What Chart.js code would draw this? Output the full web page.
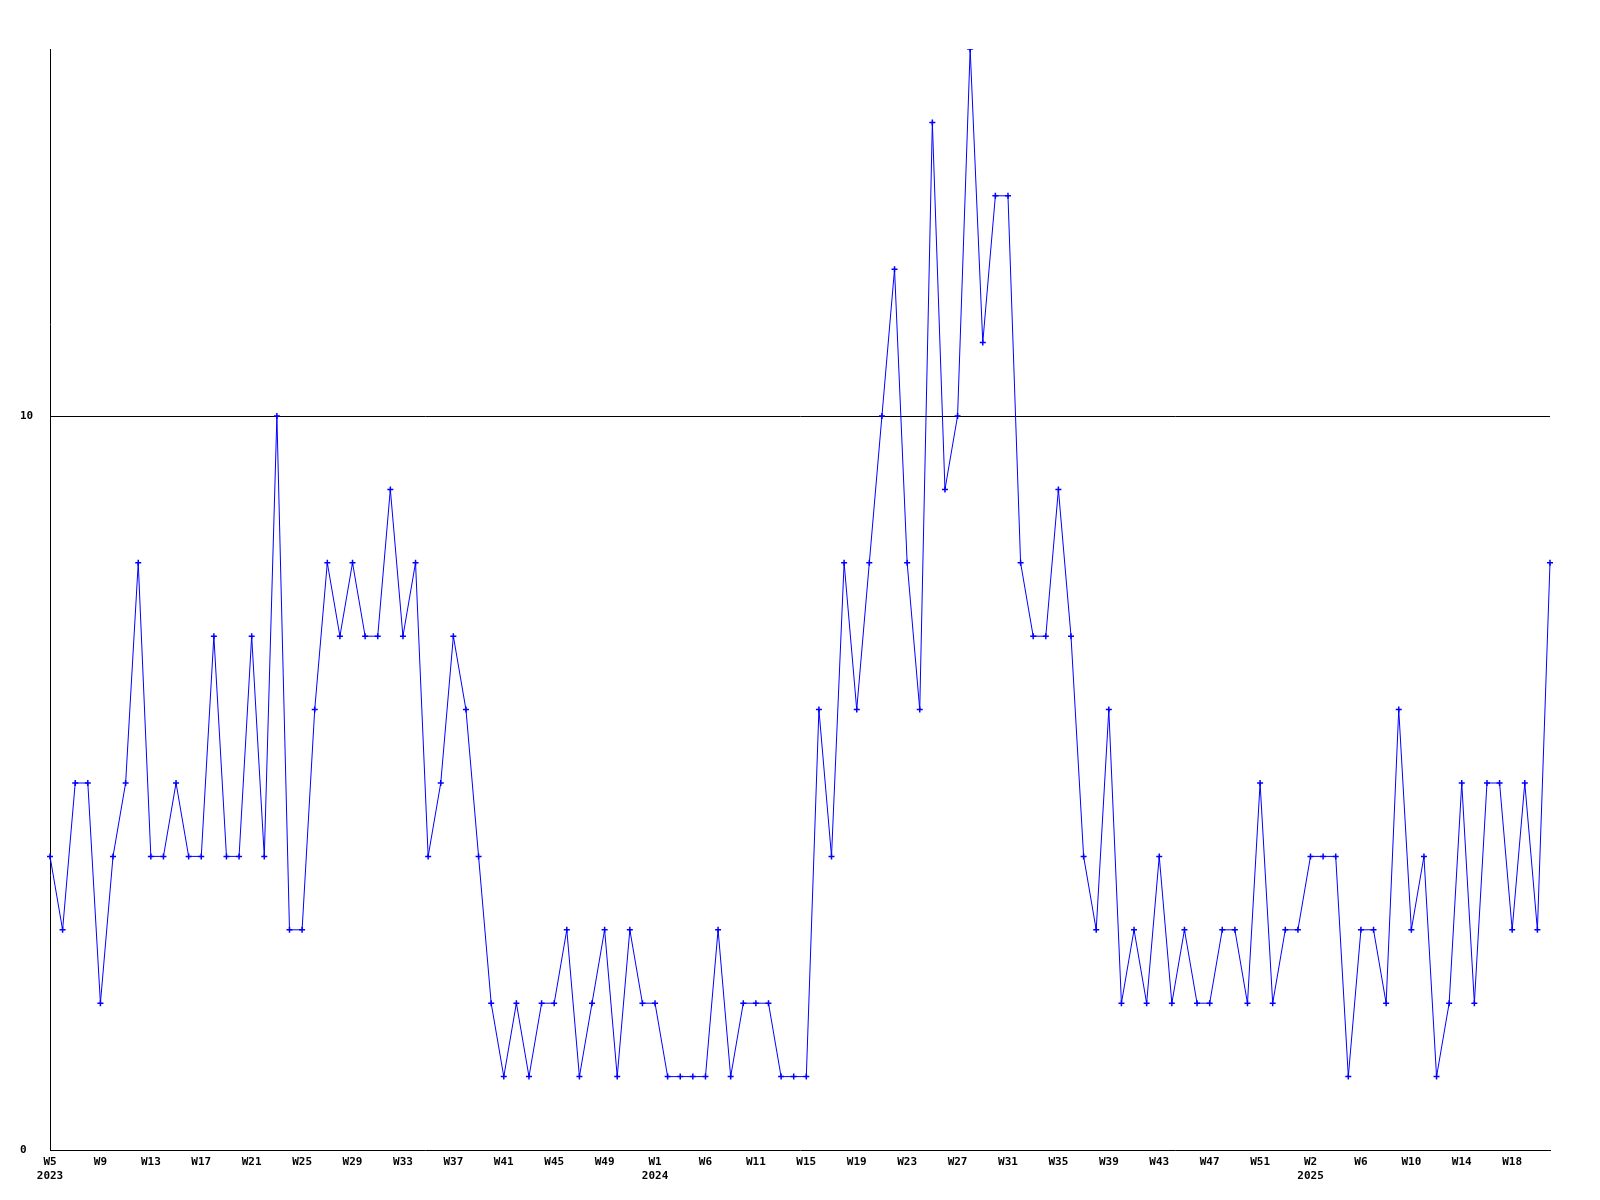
<!DOCTYPE html>
<html>
<head>
<meta charset="utf-8">
<script src="https://cdn.jsdelivr.net/npm/chart.js@4/dist/chart.umd.min.js"></script>
<style>
  html, body { margin: 0; padding: 0; background: #fff; }
  #wrap { width: 1600px; height: 1200px; }
</style>
</head>
<body>
<div id="wrap"><canvas id="chart" width="1600" height="1200"></canvas></div>
<script>
// weekly counts, one per point (W5 2023 .. W21 2025)
const weeklyValues = [
  4, 3, 5, 5, 2, 4, 5, 8, 4, 4,
  5, 4, 4, 7, 4, 4, 7, 4, 10, 3,
  3, 6, 8, 7, 8, 7, 7, 9, 7, 8,
  4, 5, 7, 6, 4, 2, 1, 2, 1, 2,
  2, 3, 1, 2, 3, 1, 3, 2, 2, 1,
  1, 1, 1, 3, 1, 2, 2, 2, 1, 1,
  1, 6, 4, 8, 6, 8, 10, 12, 8, 6,
  14, 9, 10, 15, 11, 13, 13, 8, 7, 7,
  9, 7, 4, 3, 6, 2, 3, 2, 4, 2,
  3, 2, 2, 3, 3, 2, 5, 2, 3, 3,
  4, 4, 4, 1, 3, 3, 2, 6, 3, 4,
  1, 2, 5, 2, 5, 5, 3, 5, 3, 8
];

// x tick labels, one every 4th point
const weekTicks = [
  'W5', 'W9', 'W13', 'W17', 'W21', 'W25', 'W29', 'W33', 'W37', 'W41', 'W45', 'W49',
  'W1', 'W6', 'W11', 'W15', 'W19', 'W23', 'W27', 'W31', 'W35', 'W39', 'W43', 'W47', 'W51',
  'W2', 'W6', 'W10', 'W14', 'W18'
];
const tickStep = 4;

// year shown under a week tick: [tick index, year]
const yearTicks = [[0, '2023'], [12, '2024'], [25, '2025']];

const yTicks = [0, 10];
const yMin = 0;
const yMax = 15;

const labels = weeklyValues.map(function(v, i){ return String(i); });

function xTickLabel(index){
    if (index % tickStep !== 0) return '';
    const t = index / tickStep;
    const week = weekTicks[t];
    if (week === undefined) return '';
    const yr = yearTicks.find(function(y){ return y[0] === t; });
    return yr ? [week, yr[1]] : week;
}

const tickFont = { family: '"DejaVu Sans Mono", "Liberation Mono", monospace', size: 11, weight: 'bold', lineHeight: 1.3 };

new Chart(document.getElementById('chart'), {
    type: 'line',
    data: {
        labels: labels,
        datasets: [{
            data: weeklyValues,
            borderColor: '#0000ff',
            backgroundColor: '#0000ff',
            borderWidth: 1,
            tension: 0,
            pointStyle: 'cross',
            pointRadius: 3,
            pointBorderWidth: 1.5,
            pointBorderColor: '#0000ff',
            pointHoverRadius: 3
        }]
    },
    options: {
        responsive: false,
        animation: false,
        devicePixelRatio: 1,
        layout: { padding: { left: 20, right: 50, top: 49, bottom: 0 } },
        plugins: {
            legend: { display: false },
            tooltip: { enabled: false }
        },
        scales: {
            x: {
                type: 'category',
                offset: false,
                grid: { display: false, drawTicks: false },
                border: { display: true, color: '#000', width: 1 },
                ticks: {
                    autoSkip: false,
                    maxRotation: 0,
                    minRotation: 0,
                    padding: 5,
                    color: '#000',
                    font: tickFont,
                    callback: function(value, index){ return xTickLabel(index); }
                },
                afterFit: function(scale){ scale.height = 50; }
            },
            y: {
                min: yMin,
                max: yMax,
                afterBuildTicks: function(scale){
                    scale.ticks = yTicks.map(function(v){ return { value: v }; });
                },
                grid: {
                    drawTicks: false,
                    color: function(ctx){ return ctx.tick && ctx.tick.value === 10 ? '#000' : 'rgba(0,0,0,0)'; },
                    lineWidth: 1
                },
                border: { display: true, color: '#000', width: 1 },
                ticks: {
                    crossAlign: 'far',
                    padding: 4,
                    color: '#000',
                    font: tickFont
                },
                afterFit: function(scale){ scale.width = 30; }
            }
        }
    }
});
</script>
</body>
</html>
